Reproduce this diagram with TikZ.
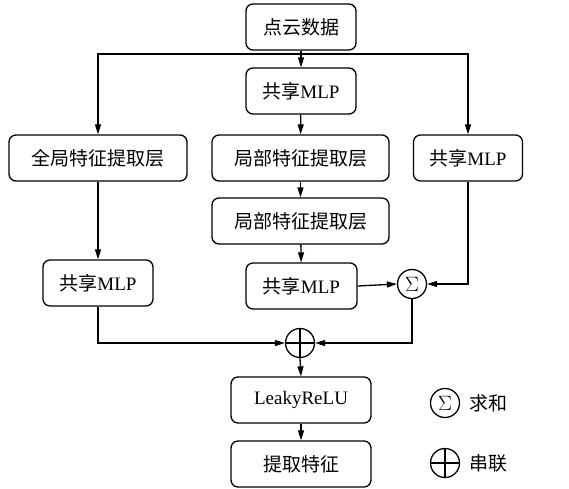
\documentclass[tikz,border=0pt]{standalone}
\usepackage{fontspec}
\setmainfont{Liberation Serif}
\newfontfamily\cjk{Noto Sans CJK SC}
\usetikzlibrary{arrows.meta}
\tikzset{
  blk/.style={draw, rounded corners=7pt, minimum height=46pt, inner sep=0pt,
    font=\fontsize{19}{21}\selectfont},
  op/.style={draw, circle, minimum size=29pt, inner sep=0pt},
  arr/.style={-{Triangle[length=10pt,width=6pt]}},
}
\begin{document}
\begin{tikzpicture}[x=1pt, y=-1pt, line width=1.3pt]
    \useasboundingbox (0,0) rectangle (569,488);
    \node[blk, minimum width=110pt] (data) at (301,27) {\cjk 点云数据};
    \node[blk, minimum width=110pt] (mlpA) at (301,91) {{\cjk 共享}MLP};
    \node[blk, minimum width=178pt] (glob) at (98,158) {\cjk 全局特征提取层};
    \node[blk, minimum width=177pt] (loc1) at (300.5,158) {\cjk 局部特征提取层};
    \node[blk, minimum width=109pt] (mlpR) at (468,158) {{\cjk 共享}MLP};
    \node[blk, minimum width=177pt] (loc2) at (300.5,221) {\cjk 局部特征提取层};
    \node[blk, minimum width=110pt] (mlpL) at (98,283) {{\cjk 共享}MLP};
    \node[blk, minimum width=111pt] (mlpM) at (301.5,286) {{\cjk 共享}MLP};
    \node[op, font=\fontsize{20}{20}\selectfont] (sum) at (412,284) {$\Sigma$};
    \node[op] (cat) at (300,343) {};
    \draw (cat.north) -- (cat.south) (cat.west) -- (cat.east);
    \node[blk, minimum width=140pt] (leaky) at (301,400) {LeakyReLU};
    \node[blk, minimum width=140pt] (feat) at (301,464) {\cjk 提取特征};

    % legend
    \node[op, font=\fontsize{20}{20}\selectfont] (lsum) at (445,403) {$\Sigma$};
    \node[font=\fontsize{19}{21}\selectfont, anchor=west] (lsumt) at (466,403) {\cjk 求和};
    \node[op] (lcat) at (445,463) {};
    \draw (lcat.north) -- (lcat.south) (lcat.west) -- (lcat.east);
    \node[font=\fontsize{19}{21}\selectfont, anchor=west] (lcatt) at (466,463) {\cjk 串联};

    \coordinate (split) at (301,54);
    \draw[arr] (data) -- (mlpA);
    \draw[arr] (split) -| (glob.north);
    \draw[arr] (split) -| (mlpR.north);
    \draw[arr] (mlpA) -- (loc1);
    \draw[arr] (loc1) -- (loc2);
    \draw[arr] (loc2) -- (mlpM);
    \draw[arr] (glob) -- (mlpL);
    \draw[arr] (mlpM.east) -- (sum.west);
    \draw[arr] (mlpR.south) |- (sum.east);
    \draw[arr] (mlpL.south) |- (cat.west);
    \draw[arr] (sum.south) |- (cat.east);
    \draw[arr] (cat.south) -- (leaky.north);
    \draw[arr] (leaky) -- (feat);
\end{tikzpicture}
\end{document}
